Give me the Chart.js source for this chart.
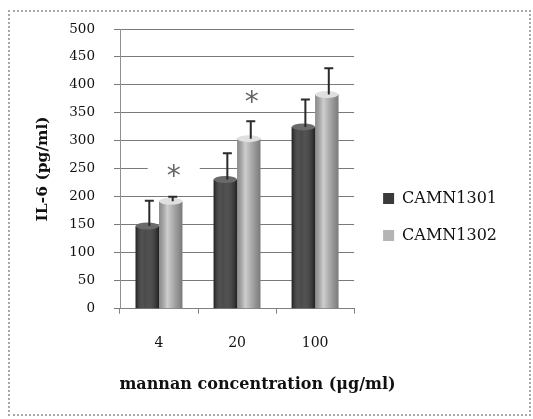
<!DOCTYPE html>
<html><head><meta charset="utf-8">
<style>
html,body{margin:0;padding:0;background:#fff;}
#wrap{position:relative;width:533px;height:419px;}
#frame{position:absolute;left:8px;top:10px;width:523px;height:406px;border:2px dotted #a8a8a8;box-sizing:border-box;pointer-events:none;}
</style>
<script src="https://cdn.jsdelivr.net/npm/chart.js@4"></script>
</head><body>
<div id="wrap"><canvas id="c" width="533" height="419"></canvas><div id="frame"></div></div>
<script>
const categories = ['4', '20', '100'];
const seriesNames = ['CAMN1301', 'CAMN1302'];
const camn1301 = [148, 231, 325];
const camn1302 = [192, 304, 383];
const camn1301Err = [45, 47, 49];
const camn1302Err = [8, 31, 47];
const starValues = [244, 377, null];
const yTicks = [0, 50, 100, 150, 200, 250, 300, 350, 400, 450, 500];
const errors = [camn1301Err, camn1302Err];

const cylinderPlugin = {
  id: 'cylinder',
  afterDatasetsDraw(chart) {
    const ctx = chart.ctx;
    chart.data.datasets.forEach((ds, di) => {
      const meta = chart.getDatasetMeta(di);
      meta.data.forEach(bar => {
        const {x, y, base, width} = bar.getProps(['x', 'y', 'base', 'width'], true);
        const l = x - width / 2;
        const g = ctx.createLinearGradient(l, 0, l + width, 0);
        if (di === 0) {
          g.addColorStop(0, 'rgba(0,0,0,0.45)');
          g.addColorStop(0.4, 'rgba(255,255,255,0.08)');
          g.addColorStop(1, 'rgba(0,0,0,0.45)');
        } else {
          g.addColorStop(0, 'rgba(0,0,0,0.22)');
          g.addColorStop(0.35, 'rgba(255,255,255,0.35)');
          g.addColorStop(1, 'rgba(0,0,0,0.32)');
        }
        ctx.save();
        ctx.fillStyle = g;
        ctx.fillRect(l, y, width, base - y);
        ctx.beginPath();
        ctx.ellipse(x, y, width / 2, 3.5, 0, 0, Math.PI * 2);
        ctx.fillStyle = di === 0 ? '#6a6a6a' : '#e0e0e0';
        ctx.fill();
        ctx.restore();
      });
    });
  }
};

const errorBarPlugin = {
  id: 'errorBars',
  afterDatasetsDraw(chart) {
    const ctx = chart.ctx;
    const yScale = chart.scales.y;
    chart.data.datasets.forEach((ds, di) => {
      const meta = chart.getDatasetMeta(di);
      meta.data.forEach((bar, i) => {
        const v = ds.data[i];
        const e = errors[di][i];
        const x = bar.x + 2;
        const yTop = yScale.getPixelForValue(v + e);
        const yVal = yScale.getPixelForValue(v);
        ctx.save();
        ctx.strokeStyle = '#2a2a2a';
        ctx.lineWidth = 2;
        ctx.beginPath();
        ctx.moveTo(x, yVal);
        ctx.lineTo(x, yTop);
        ctx.moveTo(x - 4.5, yTop);
        ctx.lineTo(x + 4.5, yTop);
        ctx.stroke();
        ctx.restore();
      });
    });
  }
};

const starPlugin = {
  id: 'stars',
  afterDatasetsDraw(chart) {
    const ctx = chart.ctx;
    const yScale = chart.scales.y;
    const meta = chart.getDatasetMeta(1);
    starValues.forEach((sv, i) => {
      if (sv === null) return;
      const x = meta.data[i].x + 3;
      const y = yScale.getPixelForValue(sv);
      ctx.save();
      ctx.fillStyle = '#ffffff';
      ctx.fillRect(x - 26, y - 7, 52, 14);
      ctx.fillStyle = '#666666';
      ctx.font = '28px "DejaVu Sans"';
      ctx.textAlign = 'center';
      ctx.textBaseline = 'middle';
      ctx.fillText('*', x, y + 6);
      ctx.restore();
    });
  }
};

new Chart(document.getElementById('c'), {
  type: 'bar',
  data: {
    labels: categories,
    datasets: [
      {label: seriesNames[0], data: camn1301, backgroundColor: '#3a3a3a', borderWidth: 0, categoryPercentage: 0.6, barPercentage: 1},
      {label: seriesNames[1], data: camn1302, backgroundColor: '#b4b4b4', borderWidth: 0, categoryPercentage: 0.6, barPercentage: 1}
    ]
  },
  options: {
    responsive: false,
    animation: false,
    devicePixelRatio: 1,
    layout: {padding: {left: 8, right: 26, top: 29, bottom: 14}},
    scales: {
      x: {
        grid: {display: true, drawOnChartArea: false, offset: true, tickLength: 5, color: '#808080'},
        border: {display: true, color: '#808080'},
        ticks: {padding: 21, color: '#111', font: {family: 'DejaVu Serif', size: 14}},
        afterFit(s) { s.height = 66.6; }
      },
      y: {
        min: 0, max: 500,
        afterBuildTicks(s) { s.ticks = yTicks.map(v => ({value: v})); },
        ticks: {padding: 19, color: '#111', font: {family: 'DejaVu Serif', size: 13.5}},
        grid: {color: '#7a7a7a', tickLength: 6, lineWidth: 1},
        border: {display: true, color: '#909090'},
        title: {display: true, text: 'IL-6 (pg/ml)', color: '#111', font: {family: 'DejaVu Serif', size: 15.5, weight: 'bold'}, padding: {top: 26, bottom: 0}},
        afterFit(s) { s.width = 112; }
      },
      y2: {
        position: 'right', display: true,
        grid: {display: false}, border: {display: false}, ticks: {display: false},
        afterFit(s) { s.width = 8; }
      }
    },
    plugins: {
      legend: {
        position: 'right', align: 'center', maxWidth: 160,
        labels: {boxWidth: 11, boxHeight: 11, padding: 21, color: '#111', font: {family: 'DejaVu Serif', size: 16}}
      },
      title: {
        display: true, position: 'bottom', fullSize: true,
        text: 'mannan concentration (μg/ml)', color: '#111',
        font: {family: 'DejaVu Serif', size: 16, weight: 'bold'},
        padding: {top: 0, bottom: 10.5}
      },
      tooltip: {enabled: false}
    }
  },
  plugins: [cylinderPlugin, errorBarPlugin, starPlugin]
});
</script>
</body></html>
